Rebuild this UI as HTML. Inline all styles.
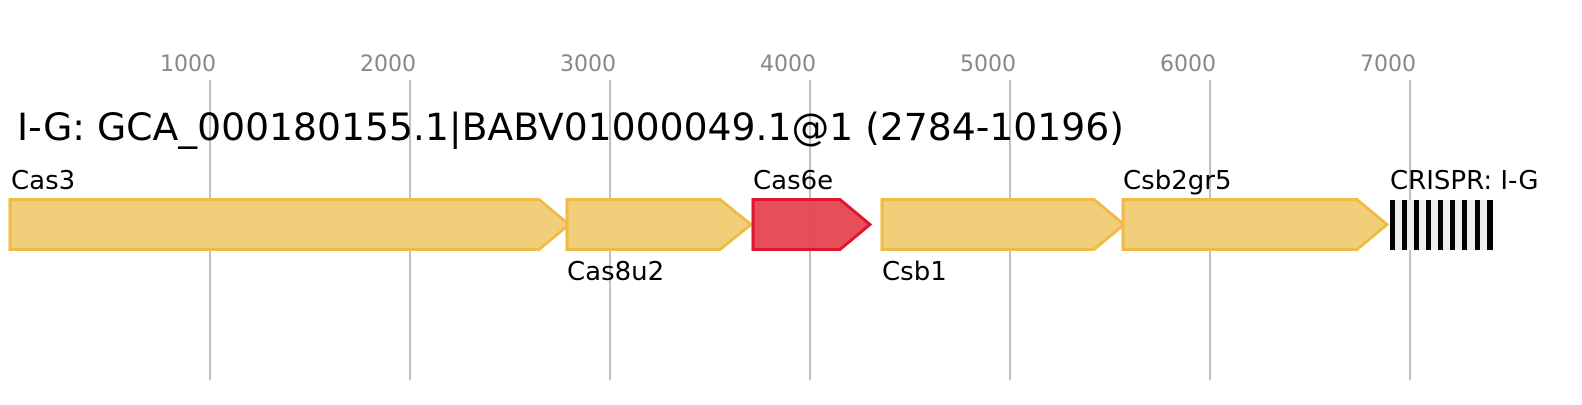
<!DOCTYPE html>
<html><head><meta charset="utf-8"><style>html,body{margin:0;padding:0;background:#fff}</style></head>
<body>
<svg width="1582" height="400" xmlns="http://www.w3.org/2000/svg" font-family="DejaVu Sans, Liberation Sans, sans-serif">
<g stroke="#c0c0c0" stroke-width="2">
<line x1="210" y1="80" x2="210" y2="380"/><line x1="410" y1="80" x2="410" y2="380"/><line x1="610" y1="80" x2="610" y2="380"/><line x1="810" y1="80" x2="810" y2="380"/><line x1="1010" y1="80" x2="1010" y2="380"/><line x1="1210" y1="80" x2="1210" y2="380"/><line x1="1410" y1="80" x2="1410" y2="380"/>
</g>
<g fill="#888" font-size="22" text-anchor="middle">
<text x="188" y="71">1000</text><text x="388" y="71">2000</text><text x="588" y="71">3000</text><text x="788" y="71">4000</text><text x="988" y="71">5000</text><text x="1188" y="71">6000</text><text x="1388" y="71">7000</text>
</g>
<text x="17" y="140" font-size="37.7" fill="#000">I-G: GCA_000180155.1|BABV01000049.1@1 (2784-10196)</text>
<g stroke-width="3" stroke-linejoin="miter" fill-opacity="0.95">
<polygon points="10,199.5 539,199.5 569,224.5 539,249.5 10,249.5" fill="#f0cb72" stroke="#efbb44"/>
<polygon points="567,199.5 720,199.5 751,224.5 720,249.5 567,249.5" fill="#f0cb72" stroke="#efbb44"/>
<polygon points="753,199.5 840,199.5 870,224.5 840,249.5 753,249.5" fill="#e54450" stroke="#e0142a"/>
<polygon points="882,199.5 1094,199.5 1124,224.5 1094,249.5 882,249.5" fill="#f0cb72" stroke="#efbb44"/>
<polygon points="1123,199.5 1357,199.5 1387,224.5 1357,249.5 1123,249.5" fill="#f0cb72" stroke="#efbb44"/>
</g>
<rect x="1390" y="200" width="103" height="50" fill="#eeeeee"/>
<g fill="#000">
<rect x="1390" y="200" width="5" height="50"/><rect x="1402" y="200" width="5" height="50"/><rect x="1414" y="200" width="5" height="50"/><rect x="1426" y="200" width="5" height="50"/><rect x="1438" y="200" width="5" height="50"/><rect x="1450" y="200" width="5" height="50"/><rect x="1462" y="200" width="5" height="50"/><rect x="1475" y="200" width="5" height="50"/><rect x="1487" y="200" width="6" height="50"/>
</g>
<g font-size="26" fill="#000">
<text x="11" y="189">Cas3</text>
<text x="567" y="280">Cas8u2</text>
<text x="753" y="189">Cas6e</text>
<text x="882" y="280">Csb1</text>
<text x="1123" y="189">Csb2gr5</text>
<text x="1390" y="189">CRISPR: I-G</text>
</g>
</svg>
</body></html>
